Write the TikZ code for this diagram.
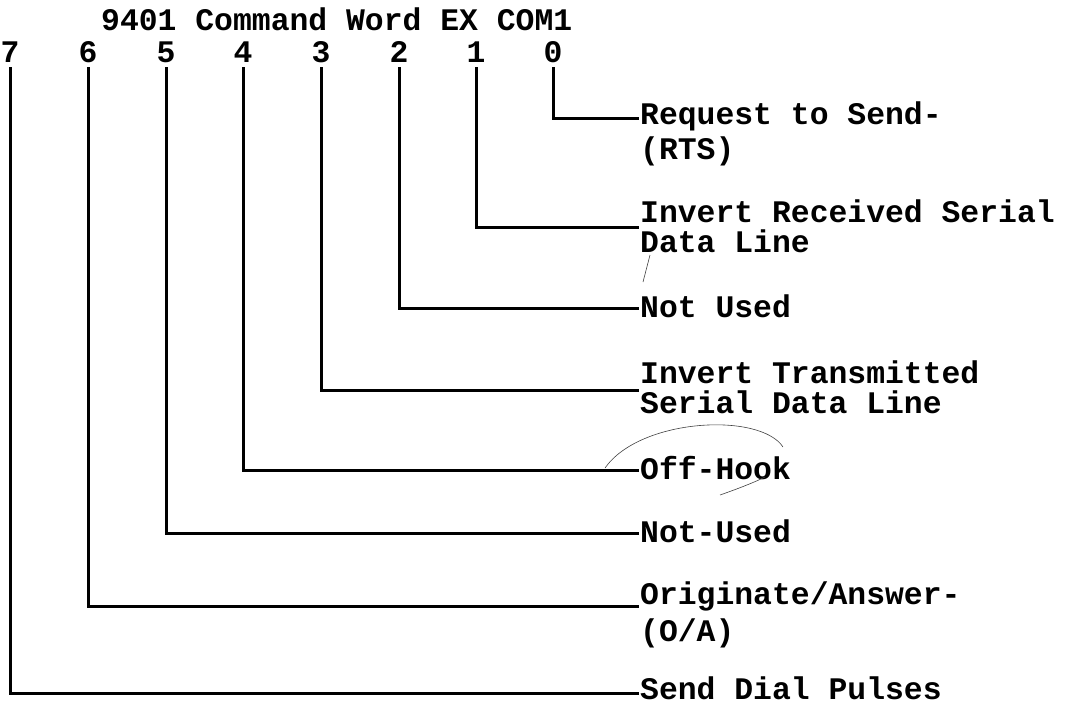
\documentclass[tikz,border=0pt]{standalone}
\usepackage{fontspec}
\setmonofont{Liberation Mono}
\begin{document}
\begin{tikzpicture}[x=1pt,y=-1pt,
  typed/.style={font=\ttfamily\bfseries\fontsize{31.4}{28}\selectfont,inner sep=0pt,
    align=left,anchor=base west},
  digit/.style={font=\ttfamily\bfseries\fontsize{31.4}{28}\selectfont,inner sep=0pt,anchor=base},
  wire/.style={line width=3pt,line cap=rect,line join=miter},
  pencil/.style={line width=0.6pt,black!75}]
\useasboundingbox (0,0) rectangle (1065,704);

% heading
\node[typed] (title) at (101,30) {9401 Command Word EX COM1};

% bit numbers
\foreach \b/\x in {7/10,6/88,5/166,4/243,3/321,2/399,1/476,0/553}{
  \node[digit] (d\b) at (\x,62) {\b};
  \coordinate (t\b) at (\x,68);
}

% bit descriptions (a two-line node sits on the baseline of its last line)
\node[typed] (l0) at (640,159) {Request to Send-\\[4pt](RTS)};
\node[typed] (l1) at (640,252) {Invert Received Serial\\[2pt]Data Line};
\node[typed] (l2) at (640,317) {Not Used};
\node[typed] (l3) at (640,413) {Invert Transmitted\\[2pt]Serial Data Line};
\node[typed] (l4) at (640,479) {Off-Hook};
\node[typed] (l5) at (640,542) {Not-Used};
\node[typed] (l6) at (640,641) {Originate/Answer-\\[6pt](O/A)};
\node[typed] (l7) at (640,699) {Send Dial Pulses};

% end points of the leader lines
\coordinate (e0) at (637,118);
\coordinate (e1) at (637,227);
\coordinate (e2) at (637,308);
\coordinate (e3) at (637,390);
\coordinate (e4) at (637,470);
\coordinate (e5) at (637,533);
\coordinate (e6) at (637,606);
\coordinate (e7) at (637,693);

% leader lines from each bit to its description
\foreach \b in {0,...,7}{
  \draw[wire] (t\b) |- (e\b);
}

% stray pencil marks
\draw[pencil] (605,468) .. controls (640,418) and (760,412) .. (783,447);
\draw[pencil] (720,495) .. controls (740,488) and (755,482) .. (765,477);
\draw[pencil] (650,255) -- (643,282);
\end{tikzpicture}
\end{document}
